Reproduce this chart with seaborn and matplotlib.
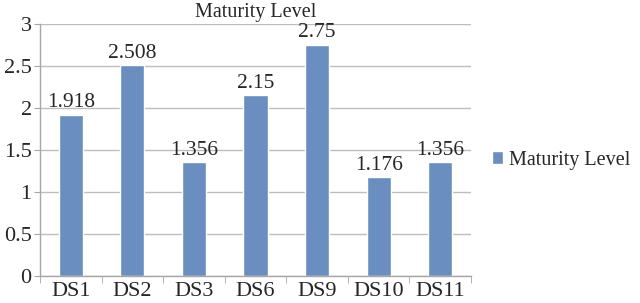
import numpy as np
import pandas as pd
import seaborn as sns
from matplotlib import pyplot as plt
from matplotlib.ticker import FixedLocator

datasets = ["DS1", "DS2", "DS3", "DS6", "DS9", "DS10", "DS11"]
maturity = [1.918, 2.508, 1.356, 2.15, 2.75, 1.176, 1.356]
value_labels = ["1.918", "2.508", "1.356", "2.15", "2.75", "1.176", "1.356"]

df = pd.DataFrame({"dataset": datasets, "level": maturity})

sns.set_style("white")
plt.rcParams['font.family'] = ['Liberation Serif', 'DejaVu Serif']

fig = plt.figure(figsize=(6.4, 3.03), dpi=100)
ax = fig.add_axes([40/640, 1 - 276/303, 431/640, 252/303])

bar_color = "#6a8ebf"
sns.barplot(data=df, x="dataset", y="level", color=bar_color, width=0.39,
            saturation=1, ax=ax, label="Maturity Level")

for i, (v, t) in enumerate(zip(maturity, value_labels)):
    ax.text(i, v + 0.03, t, ha="center", va="bottom", fontsize=15.5)

ax.set_xlim(-0.5, len(datasets) - 0.5)
ax.set_ylim(0, 3)
ax.set_yticks(np.arange(0, 3.01, 0.5))
ax.set_yticklabels(["0", "0.5", "1", "1.5", "2", "2.5", "3"])
ax.yaxis.grid(True, color="#bdbdbd", linewidth=1)
ax.set_axisbelow(True)
ax.set_xlabel("")
ax.set_ylabel("")
fig.text((40 + 431 / 2) / 640, 1 - 12 / 303, "Maturity Level", fontsize=14.5,
         ha="center", va="center")

for s in ["top", "right"]:
    ax.spines[s].set_visible(False)
for s in ["left", "bottom"]:
    ax.spines[s].set_color("#a6a6a6")
    ax.spines[s].set_linewidth(1)

ax.tick_params(axis="x", which="major", length=0, labelsize=16, pad=4)
ax.xaxis.set_minor_locator(FixedLocator(np.arange(-0.5, len(datasets), 1.0)))
ax.tick_params(axis="x", which="minor", length=5, color="#a6a6a6", direction="out", bottom=True)
ax.tick_params(axis="y", length=4, color="#a6a6a6", labelsize=16, pad=2, left=True)

ax.legend(loc="center left", bbox_to_anchor=(1.015, 0.46), frameon=False,
          fontsize=14.5, handlelength=0.55, handleheight=0.55, handletextpad=0.3,
          borderpad=0.2)

fig.savefig("out.png", dpi=100)
